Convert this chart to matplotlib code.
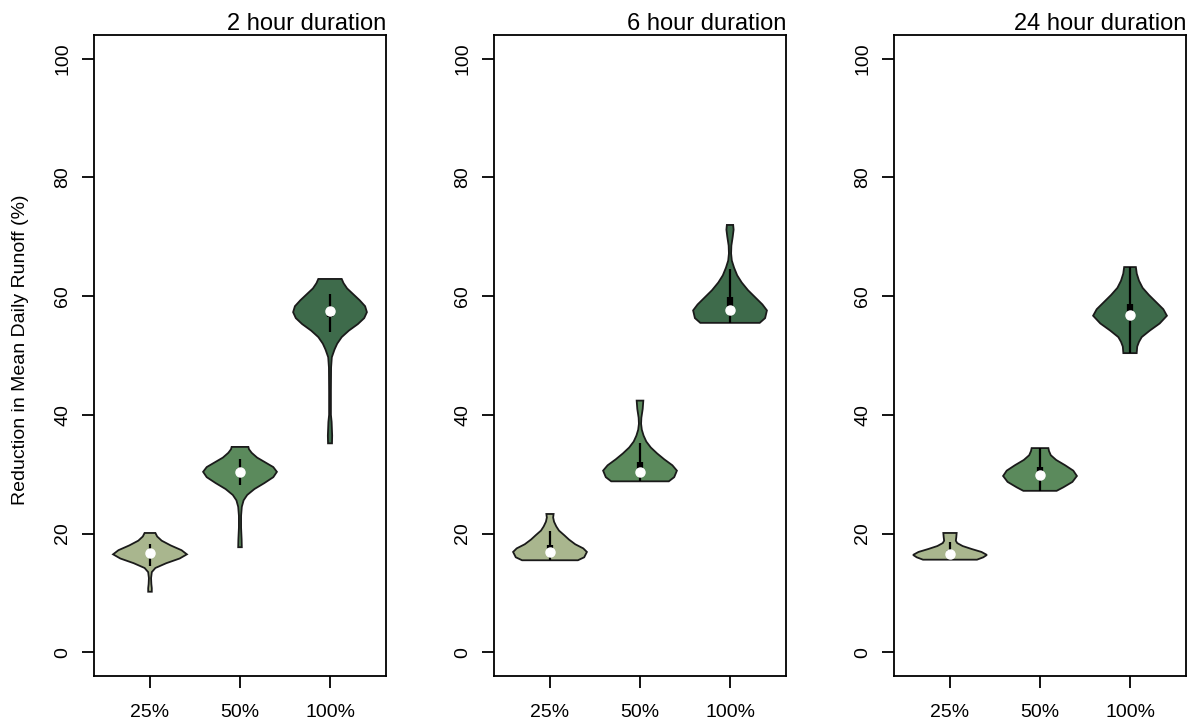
import matplotlib
matplotlib.use("Agg")
import matplotlib.pyplot as plt
import numpy as np

plt.rcParams['font.family'] = ['Liberation Sans', 'DejaVu Sans']

categories = ["25%", "50%", "100%"]
panel_titles = ["2 hour duration", "6 hour duration", "24 hour duration"]
colors = ["#a9b68e", "#5b8a5c", "#3e6b4b"]

# violin outlines: (value, half-width) pairs
p1_25 = [(10.2, 0.02), (10.8, 0.02), (11.5, 0.015), (12.5, 0.012), (13.5, 0.02), (14.2, 0.06),
         (15.0, 0.18), (15.8, 0.33), (16.5, 0.41), (17.2, 0.35), (18.0, 0.23), (18.8, 0.13),
         (19.5, 0.08), (20.1, 0.06)]
p1_50 = [(17.7, 0.02), (19.0, 0.018), (21.0, 0.012), (23.0, 0.012), (24.5, 0.02), (25.6, 0.04),
         (26.5, 0.08), (27.5, 0.16), (28.5, 0.27), (29.5, 0.37), (30.4, 0.41), (31.2, 0.37),
         (32.0, 0.28), (32.8, 0.19), (33.6, 0.13), (34.2, 0.10), (34.6, 0.093)]
p1_100 = [(35.2, 0.022), (36.5, 0.024), (38.8, 0.018), (40.0, 0.01), (44.0, 0.01), (48.0, 0.012),
          (49.7, 0.02), (51.0, 0.05), (52.0, 0.08), (53.1, 0.13), (54.2, 0.21), (55.3, 0.31),
          (56.3, 0.38), (57.3, 0.41), (58.3, 0.39), (59.3, 0.33), (60.3, 0.26), (61.3, 0.19),
          (62.2, 0.15), (62.9, 0.13)]
p2_25 = [(15.5, 0.31), (16.0, 0.38), (16.9, 0.41), (17.5, 0.37), (18.2, 0.28), (19.0, 0.21),
         (19.7, 0.16), (20.5, 0.10), (21.2, 0.07), (22.0, 0.045), (22.7, 0.035), (23.3, 0.04)]
p2_50 = [(28.8, 0.32), (29.5, 0.38), (30.6, 0.41), (31.5, 0.36), (32.5, 0.27), (33.5, 0.19),
         (34.5, 0.12), (35.5, 0.07), (36.5, 0.04), (37.5, 0.02), (38.5, 0.012), (39.5, 0.015),
         (41.0, 0.03), (42.4, 0.037)]
p2_100 = [(55.5, 0.33), (56.3, 0.39), (57.6, 0.41), (58.6, 0.36), (59.8, 0.28), (61.0, 0.20),
          (62.3, 0.13), (63.5, 0.08), (64.8, 0.045), (66.0, 0.02), (67.2, 0.012), (68.5, 0.015),
          (70.0, 0.03), (71.2, 0.04), (72.0, 0.035)]
p3_25 = [(15.6, 0.30), (16.0, 0.37), (16.4, 0.41), (16.9, 0.35), (17.4, 0.24), (17.9, 0.14),
         (18.4, 0.08), (18.8, 0.065), (19.4, 0.07), (20.1, 0.074)]
p3_50 = [(27.2, 0.185), (27.8, 0.26), (28.7, 0.36), (29.7, 0.41), (30.6, 0.37), (31.5, 0.28),
         (32.4, 0.18), (33.2, 0.12), (33.9, 0.10), (34.4, 0.093)]
p3_100 = [(50.4, 0.074), (51.5, 0.08), (52.3, 0.10), (53.1, 0.13), (54.2, 0.22), (55.4, 0.33),
          (56.7, 0.41), (57.8, 0.37), (59.0, 0.29), (60.2, 0.21), (61.4, 0.14), (62.6, 0.10),
          (63.8, 0.075), (64.9, 0.065)]

# box stats: (whisker low, q1, median, q3, whisker high)
s1 = [(14.6, 16.2, 16.7, 17.3, 18.3), (28.1, 29.8, 30.4, 31.0, 32.6), (53.9, 56.5, 57.5, 58.0, 60.4)]
s2 = [(15.5, 16.9, 16.9, 18.0, 20.5), (28.8, 30.4, 30.4, 32.0, 35.2), (55.5, 57.7, 57.7, 59.8, 64.6)]
s3 = [(15.6, 16.5, 16.5, 17.2, 18.6), (27.2, 29.8, 29.8, 31.2, 34.4), (50.4, 56.8, 56.8, 58.7, 64.9)]

profiles = [[p1_25, p1_50, p1_100], [p2_25, p2_50, p2_100], [p3_25, p3_50, p3_100]]
stats = [s1, s2, s3]
yticks = [0, 20, 40, 60, 80, 100]

fig = plt.figure(figsize=(11.9, 7.26), dpi=100)
lefts = [94, 494, 894]
for k in range(3):
    ax = fig.add_axes([lefts[k] / 1190, 1 - 676 / 726, 292 / 1190, 641 / 726])
    for i in range(3):
        pos = i + 1
        prof = np.array(profiles[k][i])
        yv, hw = prof[:, 0], prof[:, 1]
        xs = np.concatenate([pos - hw, (pos + hw)[::-1]])
        ys = np.concatenate([yv, yv[::-1]])
        ax.fill(xs, ys, facecolor=colors[i], edgecolor="#1a1a1a", linewidth=1.3, zorder=2)
        lo, q1, med, q3, hi = stats[k][i]
        ax.plot([pos, pos], [lo, hi], color="black", lw=1.6, zorder=3, solid_capstyle="butt")
        ax.plot([pos, pos], [q1, q3], color="black", lw=4.5, zorder=3, solid_capstyle="butt")
        ax.plot([pos], [med], marker="o", ms=6.5, mfc="white", mec="white", zorder=4)
    ax.set_xlim(0.378, 3.622)
    ax.set_ylim(-4, 104)
    ax.set_xticks([1, 2, 3])
    ax.set_xticklabels(categories, fontsize=14)
    ax.set_yticks(yticks)
    ax.set_yticklabels([str(t) for t in yticks], fontsize=14, rotation=90, va="center")
    ax.tick_params(axis="both", length=8.5, width=1.3, color="black")
    ax.tick_params(axis="y", pad=8)
    ax.tick_params(axis="x", pad=12)
    for sp in ax.spines.values():
        sp.set_linewidth(1.3)
    ax.set_title(panel_titles[k], loc="right", fontsize=17, pad=2)
    if k == 0:
        ax.set_ylabel("Reduction in Mean Daily Runoff (%)", fontsize=14)
        ax.yaxis.set_label_coords(-0.253, 0.509)
        ax.yaxis.label.set_va("center")

fig.savefig("out.png", dpi=100)
